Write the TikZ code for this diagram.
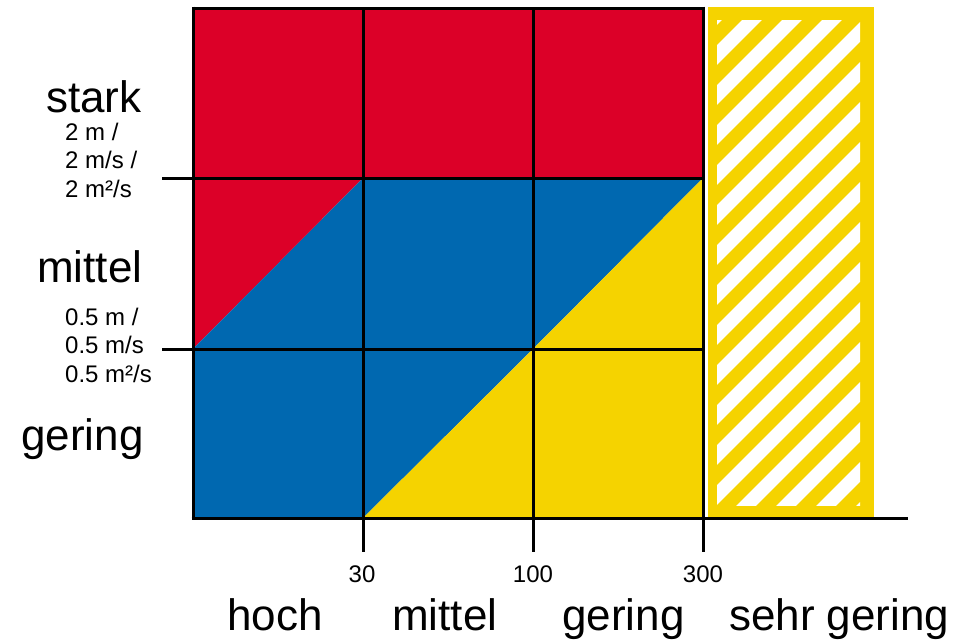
\documentclass[tikz,border=0pt]{standalone}
\usepackage{fontspec}
\setmainfont{Liberation Sans}
\definecolor{cred}{HTML}{DC0028}
\definecolor{cblue}{HTML}{0068B0}
\definecolor{cyel}{HTML}{F5D300}
\begin{document}
\begin{tikzpicture}[x=1pt,y=-1pt,
  big/.style={font=\fontsize{44}{50}\selectfont, inner sep=0pt, anchor=base west},
  small/.style={font=\fontsize{24}{28}\selectfont, inner sep=0pt, anchor=base west},
  num/.style={font=\fontsize{24}{28}\selectfont, inner sep=0pt, anchor=base},
  gridline/.style={line width=3pt, black},
  stripe/.style={white, line width=14pt}]
\useasboundingbox (0,0) rectangle (968,643);
% colour regions
\fill[cred] (193,8) -- (703,8) -- (703,178) -- (363,178) -- (193,349) -- cycle;
\fill[cblue] (193,349) -- (363,178) -- (703,178) -- (533,349) -- (363,518) -- (193,518) -- cycle;
\fill[cyel] (363,518) -- (533,349) -- (703,178) -- (703,518) -- cycle;
% hatched area
\fill[cyel] (708,7) rectangle (874,517);
\begin{scope}
  \clip (717,20) rectangle (860,505);
  \foreach \k in {-1,...,16} {
    \pgfmathsetmacro{\c}{772+40*\k}
    \draw[stripe] (690,\c-690) -- (890,\c-890);
  }
\end{scope}
% grid lines
\draw[gridline] (193,8) -- (703,8);
\draw[gridline] (193,6.5) -- (193,519.5);
\draw[gridline] (191.5,518) -- (908,518);
\draw[gridline] (363,8) -- (363,552);
\draw[gridline] (533,8) -- (533,552);
\draw[gridline] (703,6.5) -- (703,552);
\draw[gridline] (162,178) -- (703,178);
\draw[gridline] (162,349) -- (703,349);
% left labels
\node[big] (ystark) at (46,112) {stark};
\node[small] (s1) at (65,140) {2 m /};
\node[small] (s2) at (65,168) {2 m/s /};
\node[small] (s3) at (65,197) {2 m²/s};
\node[big] (ymittel) at (37,282) {mittel};
\node[small] (m1) at (65,325) {0.5 m /};
\node[small] (m2) at (65,353) {0.5 m/s};
\node[small] (m3) at (65,382) {0.5 m²/s};
\node[big] (ygering) at (21,450) {gering};
% bottom numbers
\node[num] (n30) at (362,582) {30};
\node[num] (n100) at (533,582) {100};
\node[num] (n300) at (703,582) {300};
% bottom labels
\node[big] (xhoch) at (227,630) {hoch};
\node[big] (xmittel) at (392,630) {mittel};
\node[big] (xgering) at (562,630) {gering};
\node[big] (xsehr) at (729,630) {sehr gering};
\end{tikzpicture}
\end{document}
